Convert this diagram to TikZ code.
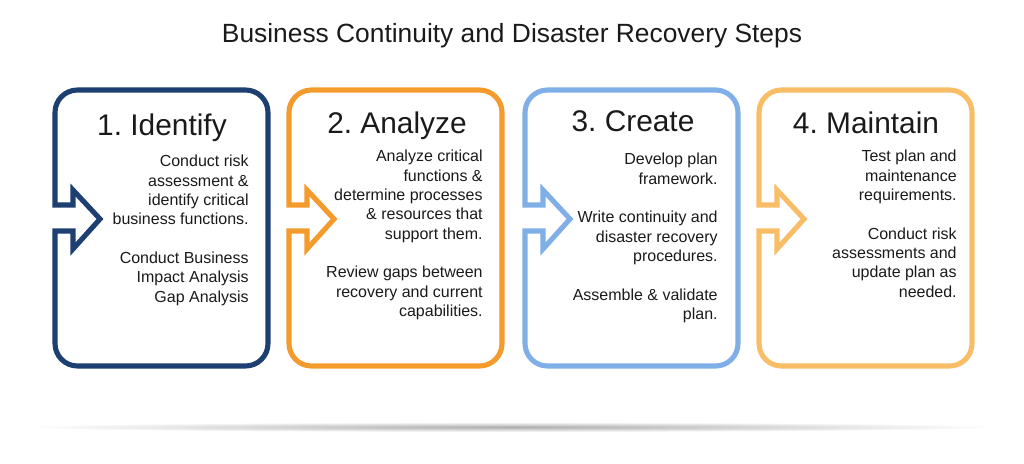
\documentclass[tikz,border=0pt]{standalone}
\usepackage{fontspec}
\setmainfont{Liberation Sans}
\frenchspacing
\definecolor{navy}{HTML}{1D3F72}
\definecolor{orangeb}{HTML}{F49B2D}
\definecolor{skyblue}{HTML}{80AFE8}
\definecolor{peach}{HTML}{F9BD68}
\definecolor{ink}{HTML}{1A1A1A}
\begin{document}
\begin{tikzpicture}[x=0.02cm,y=-0.02cm,
  frame/.style={line width=2.9pt,line join=miter},
  head/.style={anchor=base,inner sep=0,text=ink,font=\fontsize{17}{20}\selectfont},
  body/.style={anchor=north east,inner sep=0,align=right,text=ink,font=\fontsize{9.1}{11}\selectfont}]
\useasboundingbox (0,0) rectangle (1024,463);
\newcommand\stepframe[2]{
\draw[frame,#2] (#1,205) [rounded corners=0.45cm] -- (#1,90) -- (#1+213,90) -- (#1+213,366) -- (#1,366)
  [sharp corners] -- (#1,231) -- (#1+18,231) -- (#1+18,249) -- (#1+45,219) -- (#1+18,190) -- (#1+18,205) -- cycle;
}
% shadow under the steps
\shade[inner color=black!32,outer color=white] (512,427) ellipse (490 and 5);
\node[anchor=base,inner sep=0,text=ink,font=\fontsize{15}{18}\selectfont] (title) at (512,42) {Business Continuity and Disaster Recovery Steps};
\stepframe{55}{navy}
\stepframe{289}{orangeb}
\stepframe{525}{skyblue}
\stepframe{759}{peach}
\node[head] (head1) at (162,135) {1. Identify};
\node[head] (head2) at (397,133) {2. Analyze};
\node[head] (head3) at (633,131) {3. Create};
\node[head] (head4) at (866,133) {4. Maintain};
\node[body] (text1) at (249,155) {Conduct risk\\assessment \&\\identify critical\\business functions.\\[11pt]Conduct Business\\Impact Analysis\\Gap Analysis};
\node[body] (text2) at (483,150) {Analyze critical\\functions \&\\determine processes\\\& resources that\\support them.\\[11pt]Review gaps between\\recovery and current\\capabilities.};
\node[body] (text3) at (718,153) {Develop plan\\framework.\\[11pt]Write continuity and\\disaster recovery\\procedures.\\[11pt]Assemble \& validate\\plan.};
\node[body] (text4) at (957,150) {Test plan and\\maintenance\\requirements.\\[11pt]Conduct risk\\assessments and\\update plan as\\needed.};
\end{tikzpicture}
\end{document}
